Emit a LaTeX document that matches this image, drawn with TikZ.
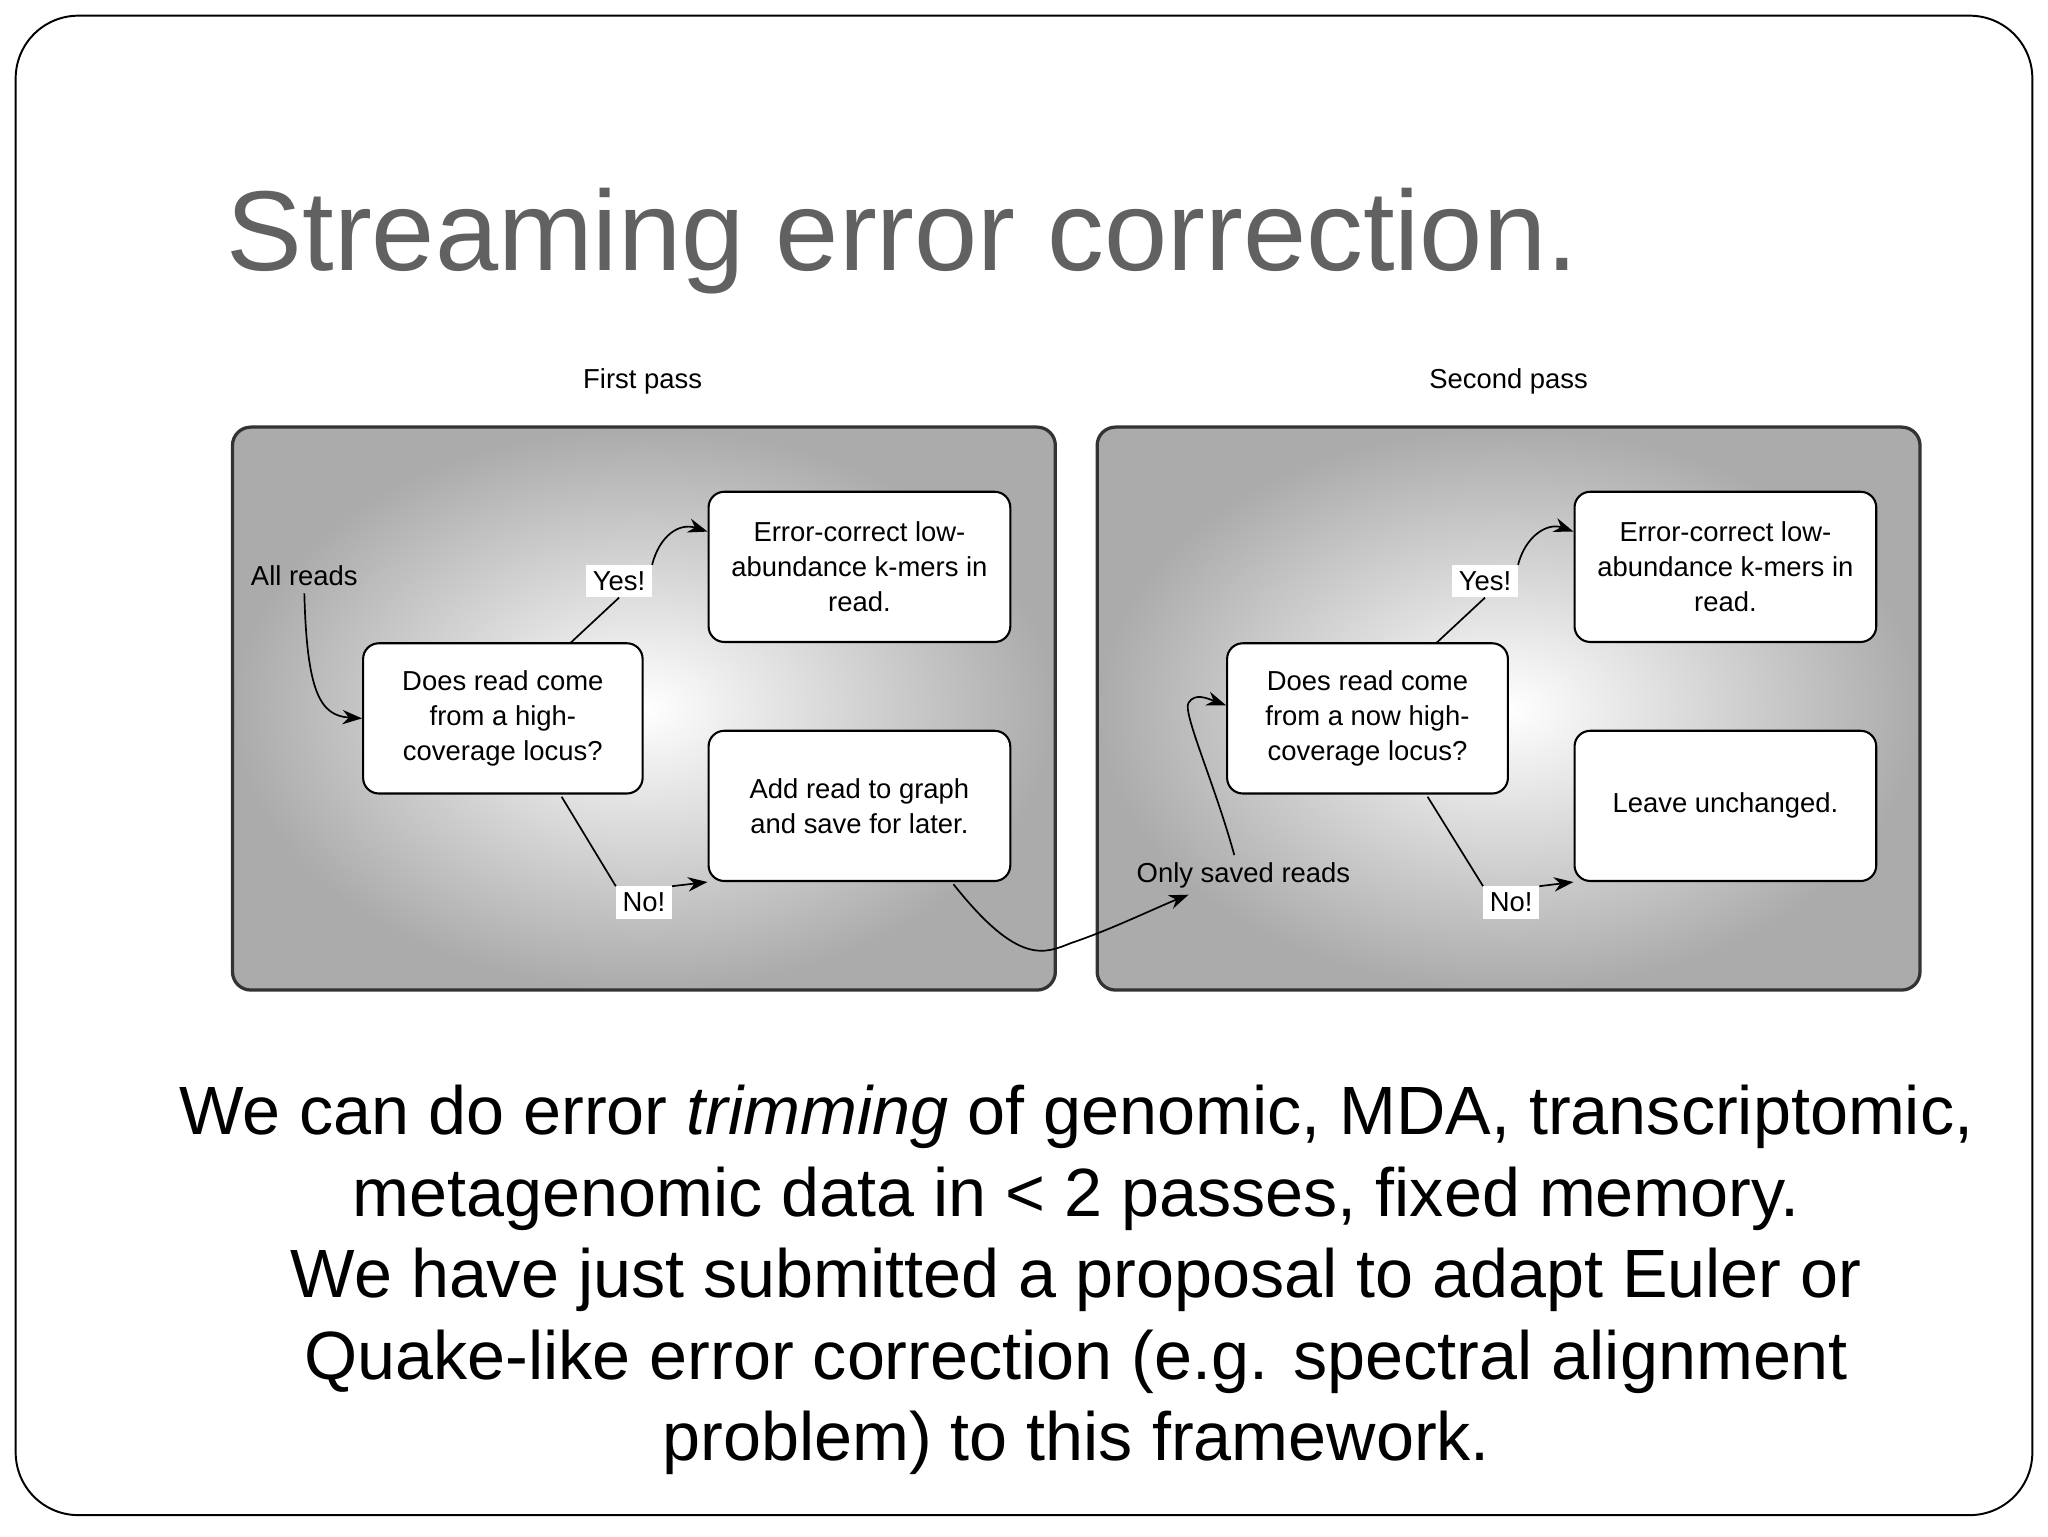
\documentclass[tikz,border=0pt]{standalone}
\usepackage{fontspec}
\setmainfont{Liberation Sans}
\usetikzlibrary{arrows.meta}
\begin{document}
\begin{tikzpicture}[x=1pt,y=-1pt,
  panel/.style={draw=black!80,line width=2.5pt,rounded corners=14pt,inner color=white,outer color=black!33},
  box/.style={draw=black,line width=1.6pt,rounded corners=12pt,fill=white,align=center,font=\fontsize{21}{27}\selectfont},
  lab/.style={fill=white,inner sep=5pt,font=\fontsize{21}{25}\selectfont},
  arr/.style={line width=1.3pt,-{Stealth[length=15pt,width=11pt]}},
  ln/.style={line width=1.3pt}]
\useasboundingbox (0,0) rectangle (1568,1176);
\fill[white] (0,0) rectangle (1568,1176);
\draw[line width=1.5pt,rounded corners=48pt] (12,12) rectangle (1556,1160);
\node[anchor=base west,text=black!62,font=\fontsize{87}{90}\selectfont] (title) at (170,207) {Streaming error correction.};
\node[font=\fontsize{21}{25}\selectfont] (fp) at (492,292) {First pass};
\node[font=\fontsize{21}{25}\selectfont] (sp) at (1155,292) {Second pass};
\draw[panel] (178,327) rectangle (808,758);
\draw[panel] (840,327) rectangle (1470,758);
% panel 1
\node[box,minimum width=214pt,minimum height=115pt] (q1) at (385,550) {Does read come\\from a high-\\coverage locus?};
\node[box,minimum width=231pt,minimum height=115pt] (e1) at (658,434) {Error-correct low-\\abundance k-mers in\\read.};
\node[box,minimum width=231pt,minimum height=115pt] (a1) at (658,617) {Add read to graph\\and save for later.};
\node[font=\fontsize{21}{25}\selectfont] (all) at (233,441) {All reads};
\node[lab] (y1) at (474,445) {Yes!};
\node[lab] (n1) at (493,691) {No!};
% panel 2
\node[box,minimum width=215pt,minimum height=115pt] (q2) at (1047,550) {Does read come\\from a now high-\\coverage locus?};
\node[box,minimum width=231pt,minimum height=115pt] (e2) at (1321,434) {Error-correct low-\\abundance k-mers in\\read.};
\node[box,minimum width=231pt,minimum height=115pt] (l2) at (1321,617) {Leave unchanged.};
\node[lab] (y2) at (1137,445) {Yes!};
\node[lab] (n2) at (1157,691) {No!};
\node[font=\fontsize{21}{25}\selectfont] (only) at (952,670) {Only saved reads};
% connectors
\draw[arr] (all.south) ++(0,2) .. controls (235,530) and (245,548) .. (q1.west);
\draw[ln] (437,492) -- (y1.south);
\draw[arr] (y1.north east) .. controls (505,410) and (520,400) .. (e1.west|-0,407);
\draw[ln] (430,610) -- (n1.north west);
\draw[arr] (n1.north east) -- (a1.south west);
\draw[ln] (1100,492) -- (y2.south);
\draw[arr] (y2.north east) .. controls (1168,410) and (1185,400) .. (e2.west|-0,407);
\draw[ln] (1093,610) -- (n2.north west);
\draw[arr] (n2.north east) -- (l2.south west);
\draw[arr] (730,677) .. controls (780,740) and (800,730) .. (820,722) .. controls (850,712) and (885,695) .. (910,685);
\draw[arr] (only.north) ++(-7,-2) .. controls (930,600) and (905,545) .. (910,538) .. controls (915,530) and (925,535) .. (q2.west|-0,540);
% body text
\node[align=center,font=\fontsize{52.3}{62.5}\selectfont] (body) at (824,980) {We can do error \textit{trimming} of genomic, MDA, transcriptomic,\\metagenomic data in < 2 passes, fixed memory.\\We have just submitted a proposal to adapt Euler or\\Quake-like error correction (e.g. spectral alignment\\problem) to this framework.};
\end{tikzpicture}
\end{document}
